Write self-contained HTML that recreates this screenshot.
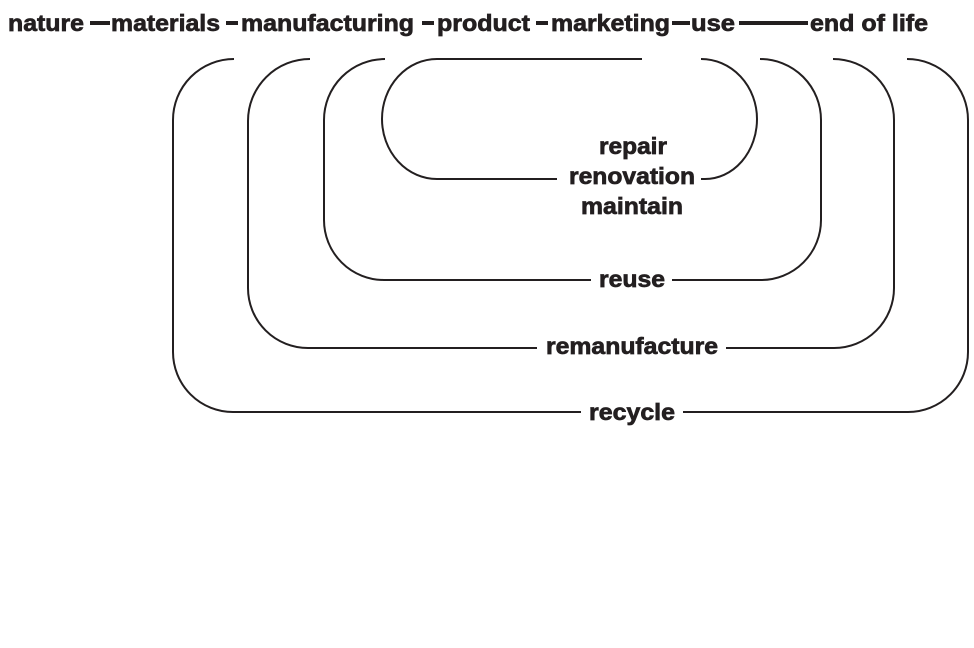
<!DOCTYPE html>
<html><head><style>body{margin:0;background:#fff}svg{display:block}</style></head><body>
<svg width="974" height="648" viewBox="0 0 974 648" xmlns="http://www.w3.org/2000/svg">
<g font-family="Liberation Sans, Arial, sans-serif" font-weight="bold" font-size="23" fill="#231f20" stroke="#231f20" stroke-width="0.7">
<text x="8" y="31" textLength="76" lengthAdjust="spacingAndGlyphs">nature</text>
<text x="111" y="31" textLength="109" lengthAdjust="spacingAndGlyphs">materials</text>
<text x="241" y="31" textLength="173" lengthAdjust="spacingAndGlyphs">manufacturing</text>
<text x="437" y="31" textLength="93" lengthAdjust="spacingAndGlyphs">product</text>
<text x="551" y="31" textLength="119" lengthAdjust="spacingAndGlyphs">marketing</text>
<text x="691" y="31" textLength="44" lengthAdjust="spacingAndGlyphs">use</text>
<text x="810" y="31" textLength="118" lengthAdjust="spacingAndGlyphs">end of life</text>
</g>
<g stroke="#231f20" stroke-width="4">
<line x1="90" y1="23" x2="110" y2="23"/>
<line x1="226" y1="23" x2="238" y2="23"/>
<line x1="422" y1="23" x2="434" y2="23"/>
<line x1="536" y1="23" x2="548" y2="23"/>
<line x1="672" y1="23" x2="690" y2="23"/>
<line x1="739" y1="23" x2="808" y2="23"/>
</g>
<g fill="none" stroke="#231f20" stroke-width="2">
<path d="M642 59 H437 A55 60 0 0 0 382 119 A55 60 0 0 0 437 179 H557"/>
<path d="M701 179 H705 A52 60 0 0 0 757 119 A56 60 0 0 0 701 59"/>
<path d="M385 59 A61 61 0 0 0 324 120 V220 A60 60 0 0 0 384 280 H591"/>
<path d="M672 280 H761 A60 60 0 0 0 821 220 V120 A61 61 0 0 0 760 59"/>
<path d="M310 59 A62 62 0 0 0 248 121 V288 A60 60 0 0 0 308 348 H537"/>
<path d="M726 348 H834 A60 60 0 0 0 894 288 V121 A61 61 0 0 0 833 59"/>
<path d="M234 59 A61 61 0 0 0 173 120 V352 A60 60 0 0 0 233 412 H581"/>
<path d="M683 412 H908 A60 60 0 0 0 968 352 V120 A61 61 0 0 0 907 59"/>
</g>
<g font-family="Liberation Sans, Arial, sans-serif" font-weight="bold" font-size="23" fill="#231f20" stroke="#231f20" stroke-width="0.7" text-anchor="middle">
<text x="633" y="154" textLength="68" lengthAdjust="spacingAndGlyphs">repair</text>
<text x="632" y="184" textLength="126" lengthAdjust="spacingAndGlyphs">renovation</text>
<text x="632" y="214" textLength="102" lengthAdjust="spacingAndGlyphs">maintain</text>
<text x="632" y="287" textLength="66" lengthAdjust="spacingAndGlyphs">reuse</text>
<text x="632" y="354" textLength="172" lengthAdjust="spacingAndGlyphs">remanufacture</text>
<text x="632" y="420" textLength="86" lengthAdjust="spacingAndGlyphs">recycle</text>
</g>
</svg>
</body></html>
